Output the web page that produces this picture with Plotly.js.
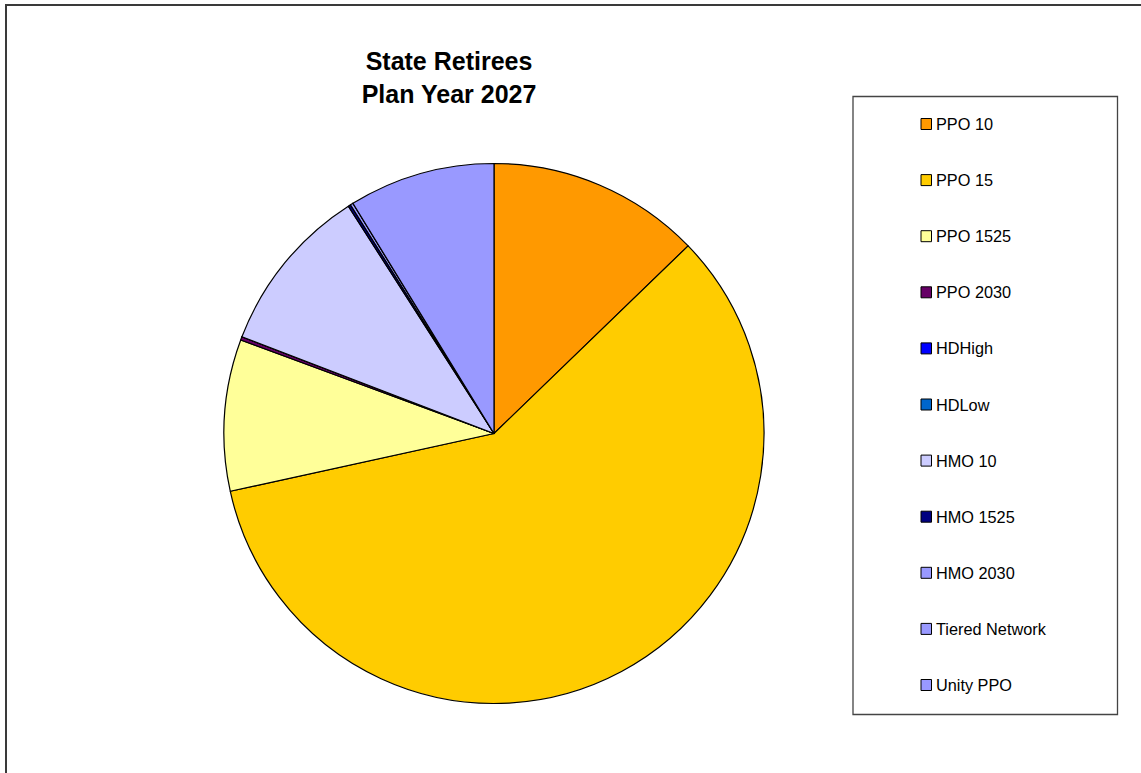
<!DOCTYPE html>
<html>
<head>
<meta charset="utf-8">
<script src="https://cdn.plot.ly/plotly-3.0.1.min.js"></script>
<style>html,body{margin:0;padding:0;background:#fff;}#chart{width:1141px;height:773px;}</style>
</head>
<body>
<div id="chart"></div>
<script>
// Data
const labels = ["PPO 10", "PPO 15", "PPO 1525", "PPO 2030", "HDHigh", "HDLow", "HMO 10", "HMO 1525", "HMO 2030", "Tiered Network", "Unity PPO"];
const values = [12.77, 58.8, 9.06, 0.2, 0, 0, 10.1, 0.15, 0.17, 0, 8.75];
const colors = ["#FF9900", "#FFCC00", "#FFFF99", "#660066", "#0000FF", "#0066CC", "#CCCCFF", "#000080", "#9999FF", "#9999FF", "#9999FF"];
const titleText = "State Retirees<br>Plan Year 2027";

const W = 1141, H = 773;
const px = x => x / W;
const py = y => 1 - y / H;

const cx = 494, cy = 433.5, r = 270;

const trace = {
  type: "pie",
  labels: labels,
  values: values,
  sort: false,
  direction: "clockwise",
  rotation: 0,
  textinfo: "none",
  hoverinfo: "label+value+percent",
  marker: { colors: colors, line: { color: "#000000", width: 1.2 } },
  domain: { x: [px(cx - r), px(cx + r)], y: [py(cy + r), py(cy - r)] },
  showlegend: false
};

const shapes = [
  // outer chart frame
  { type: "rect", xref: "paper", yref: "paper", x0: px(6), x1: 1.05, y0: -0.05, y1: py(5), line: { color: "#3a3a3a", width: 2 }, fillcolor: "rgba(0,0,0,0)" },
  // legend box
  { type: "rect", xref: "paper", yref: "paper", x0: px(853), x1: px(1117.5), y0: py(714.5), y1: py(96.5), line: { color: "#444444", width: 1.3 }, fillcolor: "rgba(0,0,0,0)" }
];
const annotations = [];
const legTop = 124, legStep = 56.1;
labels.forEach((lab, i) => {
  const yc = legTop + i * legStep;
  shapes.push({ type: "rect", xref: "paper", yref: "paper", x0: px(921), x1: px(931.5), y0: py(yc + 5.5), y1: py(yc - 5.5), fillcolor: colors[i], line: { color: "#000000", width: 1 } });
  annotations.push({ xref: "paper", yref: "paper", x: px(934), y: py(yc), xanchor: "left", yanchor: "middle", text: lab, showarrow: false, font: { family: "Liberation Sans, Arial, sans-serif", size: 16.3, color: "#000000" } });
});

const layout = {
  width: W, height: H,
  margin: { l: 0, r: 0, t: 0, b: 0 },
  paper_bgcolor: "#ffffff",
  plot_bgcolor: "#ffffff",
  title: { text: titleText, x: px(449), xanchor: "center", xref: "paper", y: py(70), yref: "paper", yanchor: "top", font: { family: "Liberation Sans, Arial, sans-serif", size: 25, color: "#000000", weight: "bold" } },
  shapes: shapes,
  annotations: annotations
};

Plotly.newPlot("chart", [trace], layout, { displayModeBar: false, staticPlot: false });
</script>
</body>
</html>
